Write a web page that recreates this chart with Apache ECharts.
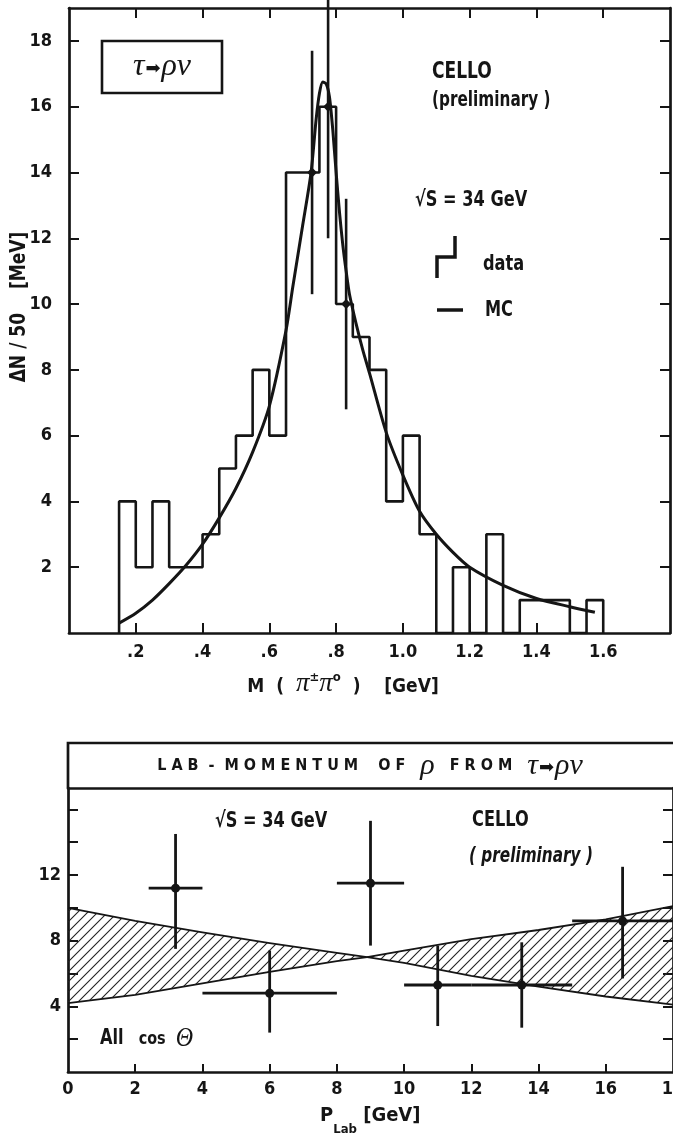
<!DOCTYPE html>
<html><head><meta charset="utf-8">
<script src="https://cdn.jsdelivr.net/npm/echarts@6/dist/echarts.min.js"></script>
<style>html,body{margin:0;padding:0;background:#fff}#c{width:673px;height:1138px}</style>
</head><body><div id="c"></div>
<script>
// ---------- Top panel: M(pi+- pi0) histogram ----------
const binEdges = [0.15,0.20,0.25,0.30,0.35,0.40,0.45,0.50,0.55,0.60,0.65,0.70,0.75,0.80,0.85,0.90,0.95,1.00,1.05,1.10,1.15,1.20,1.25,1.30,1.35,1.40,1.45,1.50,1.55,1.60];
const binCounts = [4,2,4,2,2,3,5,6,8,6,14,14,16,10,9,8,4,6,3,0,2,0,3,0,1,1,1,0,1];
const mcX = [0.15,0.20,0.25,0.30,0.35,0.40,0.45,0.50,0.55,0.60,0.65,0.67,0.70,0.725,0.74,0.75,0.76,0.77,0.78,0.79,0.80,0.81,0.82,0.83,0.84,0.86,0.88,0.90,0.95,1.00,1.05,1.10,1.15,1.20,1.30,1.40,1.50,1.575];
const mcY = [0.3,0.6,1.0,1.5,2.05,2.7,3.5,4.4,5.5,6.9,9.2,10.5,12.4,14.0,15.6,16.4,16.75,16.7,16.3,15.3,14.0,12.8,11.8,11.0,10.3,9.4,8.6,7.9,6.1,4.8,3.7,3.0,2.45,2.0,1.45,1.05,0.8,0.63];
const errX = [0.728,0.776,0.830];
const errY = [14,16,10];
const errE = [3.7,4.0,3.2];
const topXTicks = [0.2,0.4,0.6,0.8,1.0,1.2,1.4,1.6];
const topXLabels = ['.2','.4','.6','.8','1.0','1.2','1.4','1.6'];
const topYTicks = [2,4,6,8,10,12,14,16,18];
const topYLabels = ['2','4','6','8','10','12','14','16','18'];

// ---------- Bottom panel: lab momentum ----------
const pX   = [3.2, 6.0, 9.0, 11.0, 13.5, 16.5];
const pY   = [11.2, 4.8, 11.5, 5.3, 5.3, 9.2];
const pXLo = [2.4, 4.0, 8.0, 10.0, 12.0, 15.0];
const pXHi = [4.0, 8.0, 10.0, 12.0, 15.0, 18.0];
const pYLo = [7.5, 2.4, 7.7, 2.8, 2.7, 5.7];
const pYHi = [14.5, 7.4, 15.3, 7.7, 7.9, 12.5];
const bandX = [0, 2, 4, 6, 8, 8.9, 10, 12, 14, 16, 18];
const bandA = [10.0, 9.2, 8.5, 7.85, 7.25, 7.0, 6.65, 5.85, 5.2, 4.6, 4.1];
const bandB = [4.2, 4.7, 5.4, 6.1, 6.75, 7.0, 7.4, 8.1, 8.65, 9.3, 10.1];
const botXTicks = [2,4,6,8,10,12,14,16];
const botXLabelVals = [0,2,4,6,8,10,12,14,16,18];
const botXLabels = ['0','2','4','6','8','10','12','14','16','18'];
const botYTicks = [2,4,6,8,10,12,14,16];
const botYLabelVals = [4,8,12];
const botYLabels = ['4','8','12'];

// ---------- styles ----------
const INK = '#151515';
const NARROW = "'DejaVu Sans Condensed','Liberation Sans Narrow',sans-serif";
const SERIF = "'Liberation Serif','DejaVu Serif',serif";

function lookup(vals, labels){
  return v => { const i = vals.findIndex(t => Math.abs(t - v) < 1e-6); return i < 0 ? '' : labels[i]; };
}
function axis(extra){
  const base = {
    type:'value',
    axisLine:{show:true, onZero:false, lineStyle:{color:INK, width:2.7}},
    splitLine:{show:false},
    axisTick:{show:true, inside:true, length:10, lineStyle:{color:INK, width:2}},
    axisLabel:{show:false}
  };
  return Object.assign(base, extra);
}
const labelStyle = {color:INK, fontFamily:NARROW, fontWeight:'bold', fontSize:18};

// histogram outline points
const histPts = [[binEdges[0], 0]];
for (let i = 0; i < binCounts.length; i++) {
  histPts.push([binEdges[i], binCounts[i]]);
  histPts.push([binEdges[i+1], binCounts[i]]);
}
histPts.push([binEdges[binEdges.length-1], 0]);

// hatch pattern
const pat = document.createElement('canvas');
pat.width = 10; pat.height = 10;
(function(){
  const g = pat.getContext('2d');
  g.strokeStyle = '#222'; g.lineWidth = 1.1;
  g.beginPath();
  g.moveTo(-1, 11); g.lineTo(11, -1);
  g.moveTo(-6, 6); g.lineTo(6, -6);
  g.moveTo(4, 16); g.lineTo(16, 4);
  g.stroke();
})();

function txt(x, y, text, size, extra, sy){
  return {type:'text', x:x, y:y, scaleY: sy || 1.2,
    style:Object.assign({text:text, fontFamily:NARROW, fontWeight:'bold', fontSize:size, fill:INK, verticalAlign:'middle'}, extra || {})};
}

const chart = echarts.init(document.getElementById('c'), null, {renderer:'canvas'});
const option = {
  animation:false,
  backgroundColor:'#fff',
  grid:[
    {left:69, top:8, width:601, height:625, outerBoundsMode:'none', containLabel:false},
    {left:68, top:788, width:605, height:284, outerBoundsMode:'none', containLabel:false}
  ],
  xAxis:[
    axis({gridIndex:0, min:0, max:1.8, interval:0.2, position:'bottom',
      axisTick:{show:true, inside:true, length:10, customValues:topXTicks, lineStyle:{color:INK,width:2}},
      axisLabel:Object.assign({show:true, margin:10, customValues:topXTicks, formatter:lookup(topXTicks, topXLabels)}, labelStyle)}),
    axis({gridIndex:0, min:0, max:1.8, interval:0.2, position:'top',
      axisTick:{show:true, inside:true, length:10, customValues:topXTicks, lineStyle:{color:INK,width:2}}}),
    axis({gridIndex:1, min:0, max:18, interval:2, position:'bottom',
      axisTick:{show:true, inside:true, length:8, customValues:botXTicks, lineStyle:{color:INK,width:2}},
      axisLabel:Object.assign({show:true, margin:8, customValues:botXLabelVals, formatter:lookup(botXLabelVals, botXLabels)}, labelStyle)}),
    axis({gridIndex:1, min:0, max:18, interval:2, position:'top', axisTick:{show:false}})
  ],
  yAxis:[
    axis({gridIndex:0, min:0, max:19, interval:2, position:'left',
      axisTick:{show:true, inside:true, length:10, customValues:topYTicks, lineStyle:{color:INK,width:2}},
      axisLabel:Object.assign({show:true, margin:17, customValues:topYTicks, formatter:lookup(topYTicks, topYLabels)}, labelStyle)}),
    axis({gridIndex:0, min:0, max:19, interval:2, position:'right',
      axisTick:{show:true, inside:true, length:10, customValues:topYTicks, lineStyle:{color:INK,width:2}}}),
    axis({gridIndex:1, min:0, max:17.3, interval:2, position:'left',
      axisTick:{show:true, inside:true, length:10, customValues:botYTicks, lineStyle:{color:INK,width:2}},
      axisLabel:Object.assign({show:true, margin:7, customValues:botYLabelVals, formatter:lookup(botYLabelVals, botYLabels)}, labelStyle)}),
    axis({gridIndex:1, min:0, max:17.3, interval:2, position:'right',
      axisTick:{show:true, inside:true, length:10, customValues:botYTicks, lineStyle:{color:INK,width:2}}})
  ],
  series:[
    {type:'line', name:'data', xAxisIndex:0, yAxisIndex:0, data:histPts, symbol:'none',
      lineStyle:{color:INK, width:2.6}, z:3},
    {type:'line', name:'MC', xAxisIndex:0, yAxisIndex:0, data:mcX.map((x,i)=>[x, mcY[i]]), symbol:'none',
      smooth:0.25, lineStyle:{color:INK, width:3}, z:4},
    {type:'custom', xAxisIndex:0, yAxisIndex:0, z:5,
      data:errX.map((x,i)=>[x, errY[i], errE[i]]),
      encode:{x:0, y:1},
      renderItem:function(params, api){
        const x = api.value(0), y = api.value(1), e = api.value(2);
        const c = api.coord([x, y]), lo = api.coord([x, y - e]), hi = api.coord([x, y + e]);
        const d = 5;
        return {type:'group', children:[
          {type:'line', shape:{x1:lo[0], y1:lo[1], x2:hi[0], y2:Math.max(hi[1], 0)}, style:{stroke:INK, lineWidth:2.6}},
          {type:'polygon', shape:{points:[[c[0],c[1]-d],[c[0]+d,c[1]],[c[0],c[1]+d],[c[0]-d,c[1]]]}, style:{fill:INK}}
        ]};
      }},
    {type:'custom', xAxisIndex:2, yAxisIndex:2, z:2,
      data:[[bandX[0], bandA[0]]],
      encode:{x:0, y:1},
      renderItem:function(params, api){
        const pts = [];
        for (let i = 0; i < bandX.length; i++) pts.push(api.coord([bandX[i], bandA[i]]));
        for (let i = bandX.length - 1; i >= 0; i--) pts.push(api.coord([bandX[i], bandB[i]]));
        const la = bandX.map((x,i)=>api.coord([x, bandA[i]]));
        const lb = bandX.map((x,i)=>api.coord([x, bandB[i]]));
        return {type:'group', children:[
          {type:'polygon', shape:{points:pts}, style:{fill:{image:pat, repeat:'repeat'}, stroke:null}},
          {type:'polyline', shape:{points:la}, style:{stroke:INK, lineWidth:1.8, fill:null}},
          {type:'polyline', shape:{points:lb}, style:{stroke:INK, lineWidth:1.8, fill:null}}
        ]};
      }},
    {type:'custom', xAxisIndex:2, yAxisIndex:2, z:5,
      data:pX.map((x,i)=>[x, pY[i], pXLo[i], pXHi[i], pYLo[i], pYHi[i]]),
      encode:{x:0, y:1},
      renderItem:function(params, api){
        const x = api.value(0), y = api.value(1);
        const c = api.coord([x, y]);
        const l = api.coord([api.value(2), y]), r = api.coord([api.value(3), y]);
        const b = api.coord([x, api.value(4)]), t = api.coord([x, api.value(5)]);
        return {type:'group', children:[
          {type:'line', shape:{x1:l[0], y1:l[1], x2:r[0], y2:r[1]}, style:{stroke:INK, lineWidth:2.8}},
          {type:'line', shape:{x1:b[0], y1:b[1], x2:t[0], y2:t[1]}, style:{stroke:INK, lineWidth:2.8}},
          {type:'circle', shape:{cx:c[0], cy:c[1], r:4.5}, style:{fill:INK}}
        ]};
      }}
  ],
  graphic:[
    // ----- top panel annotations -----
    {type:'rect', shape:{x:102, y:41, width:120, height:52}, style:{fill:null, stroke:INK, lineWidth:2.6}},
    {type:'text', x:162, y:67, style:{text:'{g|τ}{a|➡}{g|ρν}', align:'center', verticalAlign:'middle',
      rich:{g:{fontFamily:SERIF, fontStyle:'italic', fontSize:32, fill:INK}, a:{fontFamily:"'DejaVu Sans'", fontSize:18, fill:INK, padding:[4,1,0,1]}}}},
    txt(432, 72, 'CELLO', 19),
    txt(432, 101, '(preliminary )', 17),
    txt(415, 200, '√S = 34 GeV', 18),
    {type:'polyline', shape:{points:[[437,278],[437,257],[455,257],[455,236]]}, style:{stroke:INK, lineWidth:3.5, fill:null}},
    txt(483, 264, 'data', 18),
    {type:'line', shape:{x1:437, y1:310, x2:463, y2:310}, style:{stroke:INK, lineWidth:3.5}},
    txt(485, 310, 'MC', 18),
    {type:'text', x:19, y:307, rotation:Math.PI/2, scaleY:1.15,
      style:{text:'ΔN / 50    [MeV]', fontFamily:NARROW, fontWeight:'bold', fontSize:19, fill:INK, align:'center', verticalAlign:'middle'}},
    {type:'text', x:343, y:684, style:{text:'{a|M  (  }{p|π}{s|±}{p|π}{s|o}{a|  )    [GeV]}', align:'center', verticalAlign:'middle',
      rich:{a:{fontFamily:NARROW, fontWeight:'bold', fontSize:19, fill:INK, verticalAlign:'bottom', lineHeight:26},
            p:{fontFamily:SERIF, fontStyle:'italic', fontSize:27, fill:INK, verticalAlign:'bottom', lineHeight:26},
            s:{fontFamily:NARROW, fontWeight:'bold', fontSize:13, fill:INK, verticalAlign:'top', lineHeight:12}}}},
    // ----- bottom panel frame / title band -----
    {type:'polyline', shape:{points:[[68,788],[68,743],[680,743]]}, style:{stroke:INK, lineWidth:2.7, fill:null}},
    {type:'text', x:370, y:766, style:{text:'{a|L A B  -  M O M E N T U M    O F   }{g|ρ}{a|   F R O M   }{g|τ}{r|➡}{g|ρν}', align:'center', verticalAlign:'middle',
      rich:{a:{fontFamily:NARROW, fontWeight:'bold', fontSize:16, fill:INK},
            g:{fontFamily:SERIF, fontStyle:'italic', fontSize:30, fill:INK},
            r:{fontFamily:"'DejaVu Sans'", fontSize:18, fill:INK, padding:[4,1,0,1]}}}},
    txt(215, 821, '√S = 34 GeV', 18),
    txt(472, 820, 'CELLO', 18),
    txt(469, 857, '( preliminary )', 17, {fontStyle:'italic'}),
    {type:'text', x:100, y:1039, scaleY:1.15, style:{text:'{a|All}{b|   cos  }{g|Θ}', verticalAlign:'middle',
      rich:{a:{fontFamily:NARROW, fontWeight:'bold', fontSize:18, fill:INK},
            b:{fontFamily:NARROW, fontWeight:'bold', fontSize:16, fill:INK},
            g:{fontFamily:SERIF, fontStyle:'italic', fontSize:24, fill:INK}}}},
    {type:'text', x:320, y:1121, style:{text:'{p|P}{s|Lab}{a| [GeV]}', verticalAlign:'middle',
      rich:{p:{fontFamily:NARROW, fontWeight:'bold', fontSize:20, fill:INK, verticalAlign:'top', lineHeight:30},
            s:{fontFamily:NARROW, fontWeight:'bold', fontSize:13, fill:INK, verticalAlign:'bottom', lineHeight:30},
            a:{fontFamily:NARROW, fontWeight:'bold', fontSize:20, fill:INK, verticalAlign:'top', lineHeight:30}}}}
  ]
};
chart.setOption(option);
</script>
</body></html>
